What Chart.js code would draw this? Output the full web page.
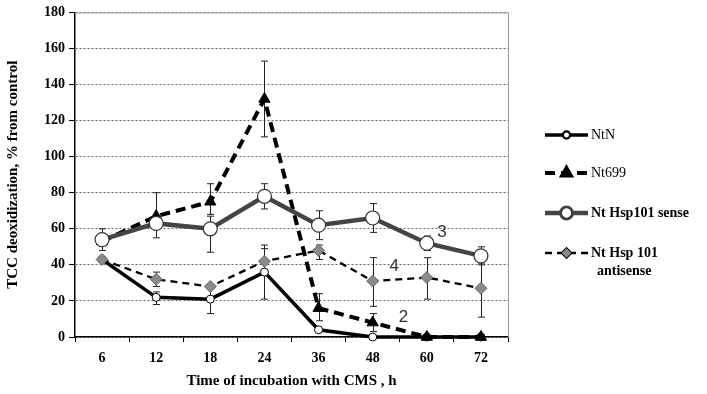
<!DOCTYPE html>
<html lang="en">
<head>
	<meta charset="UTF-8">
	<title>TCC deoxidization</title>
	<script src="https://cdn.jsdelivr.net/npm/chart.js"></script>
	<style>
		body { margin: 0; background: #fff; }
	</style>
</head>
<body>
	<canvas id="chart" width="707" height="394"></canvas>
	<script>
		// Data
		const hours = ['6', '12', '18', '24', '36', '48', '60', '72'];
		const yTicks = [0, 20, 40, 60, 80, 100, 120, 140, 160, 180];

		const ntN = [43, 22, 21, 36, 4, 0, 0, 0];
		const ntNLow = [null, 18, 13, 21, null, null, null, null];
		const ntNHigh = [null, 25, 29, 49, null, null, null, null];

		const nt699 = [53, 67, 75, 132, 16, 8, 0, 0];
		const nt699Low = [null, null, 68, 111, 9, 3, null, null];
		const nt699High = [null, null, 85, 153, 24, 13, null, null];

		const sense = [54, 63, 60, 78, 62, 66, 52, 45];
		const senseLow = [48, 55, 47, 71, 54, 58, 48, 40];
		const senseHigh = [60, 80, 67, 85, 70, 74, 56, 50];

		const antisense = [43, 32, 28, 42, 48, 31, 33, 27];
		const antisenseLow = [null, 28, null, null, 43, 17, 21, 11];
		const antisenseHigh = [null, 36, null, 51, 51, 44, 44, 41];

		// curve numbers written on the plot: [label, category position, value]
		const curveNotes = [['3', 6.28, 58], ['4', 5.4, 39], ['2', 5.57, 11]];

		const serif = '"Liberation Serif", "DejaVu Serif", serif';

		const datasets = [
			{
				label: 'NtN', data: ntN, low: ntNLow, high: ntNHigh,
				borderColor: '#000', borderWidth: 3.5, clip: false,
				pointStyle: 'circle', pointRadius: 4, pointBackgroundColor: '#fff',
				pointBorderColor: '#000', pointBorderWidth: 1, order: 4
			},
			{
				label: 'Nt699', data: nt699, low: nt699Low, high: nt699High,
				borderColor: '#000', borderWidth: 4, borderDash: [10, 6], clip: false,
				pointStyle: 'triangle', pointRadius: 6.5, pointBackgroundColor: '#000',
				pointBorderColor: '#000', pointBorderWidth: 1, order: 3
			},
			{
				label: 'Nt Hsp101 sense', data: sense, low: senseLow, high: senseHigh,
				borderColor: '#444', borderWidth: 4.5,
				pointStyle: 'circle', pointRadius: 7, pointBackgroundColor: '#fff',
				pointBorderColor: '#333', pointBorderWidth: 1.2, order: 1
			},
			{
				label: ['Nt Hsp 101', 'antisense'], data: antisense, low: antisenseLow, high: antisenseHigh,
				borderColor: '#000', borderWidth: 2.3, borderDash: [7, 5],
				pointStyle: 'rectRot', pointRadius: 6, pointBackgroundColor: '#8a8a8a',
				pointBorderColor: '#666', pointBorderWidth: 1, order: 2
			}
		];

		// error bars, box outline, curve numbers and legend
		const extras = {
			id: 'extras',
			beforeDatasetsDraw(chart) {
				const ctx = chart.ctx, x = chart.scales.x, y = chart.scales.y;
				ctx.save();
				ctx.strokeStyle = '#222';
				ctx.lineWidth = 1;
				chart.data.datasets.forEach(ds => {
					ds.data.forEach((v, i) => {
						const lo = ds.low[i], hi = ds.high[i];
						if (lo === null && hi === null) return;
						const px = Math.round(x.getPixelForValue(i)) + 0.5;
						const y1 = y.getPixelForValue(hi === null ? v : hi);
						const y2 = y.getPixelForValue(lo === null ? v : lo);
						ctx.beginPath();
						ctx.moveTo(px, y1); ctx.lineTo(px, y2);
						if (hi !== null) { ctx.moveTo(px - 3.5, y1); ctx.lineTo(px + 3.5, y1); }
						if (lo !== null) { ctx.moveTo(px - 3.5, y2); ctx.lineTo(px + 3.5, y2); }
						ctx.stroke();
					});
				});
				ctx.restore();
			},
			afterDraw(chart) {
				const ctx = chart.ctx, a = chart.chartArea, x = chart.scales.x, y = chart.scales.y;
				ctx.save();
				// top and right border
				ctx.strokeStyle = '#999';
				ctx.lineWidth = 1;
				ctx.beginPath();
				ctx.moveTo(a.left, a.top + 0.5); ctx.lineTo(a.right + 0.5, a.top + 0.5);
				ctx.lineTo(a.right + 0.5, a.bottom);
				ctx.stroke();

				ctx.fillStyle = '#333';
				ctx.font = '17px "Liberation Sans", Arial, sans-serif';
				ctx.textAlign = 'center';
				ctx.textBaseline = 'middle';
				curveNotes.forEach(n => {
					ctx.fillText(n[0], x.getPixelForValue(n[1]), y.getPixelForValue(n[2]));
				});

				// legend
				const lx = 545, lx2 = 588;
				const rows = [135, 173, 213, 253];
				chart.data.datasets.forEach((ds, k) => {
					const ly = rows[k];
					ctx.strokeStyle = ds.borderColor;
					ctx.lineWidth = ds.borderWidth;
					ctx.setLineDash(ds.borderDash || []);
					ctx.beginPath();
					ctx.moveTo(lx, ly); ctx.lineTo(lx2, ly);
					ctx.stroke();
					ctx.setLineDash([]);
					Chart.helpers.drawPoint(ctx, {
						pointStyle: ds.pointStyle,
						radius: ds.pointRadius * 0.75,
						borderWidth: ds.pointBorderWidth
					}, (lx + lx2) / 2, ly);
					ctx.fillStyle = ds.pointBackgroundColor;
					ctx.strokeStyle = ds.pointBorderColor;
					ctx.lineWidth = ds.pointBorderWidth;
					ctx.fill();
					ctx.stroke();

					ctx.fillStyle = '#000';
					ctx.textAlign = 'left';
					ctx.font = (k < 2 ? '' : 'bold ') + '14px ' + serif;
					const lines = Array.isArray(ds.label) ? ds.label : [ds.label];
					lines.forEach((t, j) => ctx.fillText(t, lx2 + 3 + (j ? 6 : 0), ly + j * 18));
				});
				ctx.restore();
			}
		};

		new Chart(document.getElementById('chart'), {
			type: 'line',
			data: { labels: hours, datasets: datasets },
			options: {
				responsive: false,
				animation: false,
				layout: { padding: { top: 10, right: 199, left: 0, bottom: 0 } },
				plugins: { legend: { display: false }, tooltip: { enabled: false } },
				elements: { line: { tension: 0, fill: false } },
				scales: {
					x: {
						offset: true,
						afterFit(s) { s.height = 57; },
						border: { color: '#000', width: 1.5 },
						grid: { offset: true, drawOnChartArea: false, tickLength: 5, color: '#000' },
						ticks: { color: '#000', padding: 8, font: { family: serif, size: 14, weight: 'bold' } },
						title: {
							display: true, text: 'Time of incubation with CMS , h', color: '#000',
							font: { family: serif, size: 15, weight: 'bold' }, padding: { top: 4 }
						}
					},
					y: {
						min: 0, max: 180,
						afterFit(s) { s.width = 75; },
						afterBuildTicks(s) { s.ticks = yTicks.map(v => ({ value: v })); },
						border: { color: '#000', width: 1.5, dash: [2, 2] },
						grid: { color: '#666', tickLength: 6, tickColor: '#000', tickBorderDash: [] },
						ticks: { color: '#000', padding: 4, font: { family: serif, size: 14, weight: 'bold' } },
						title: {
							display: true, text: 'TCC deoxidization, % from control', color: '#000',
							font: { family: serif, size: 15, weight: 'bold' }, padding: { bottom: 0 }
						}
					}
				}
			},
			plugins: [extras]
		});
	</script>
</body>
</html>
